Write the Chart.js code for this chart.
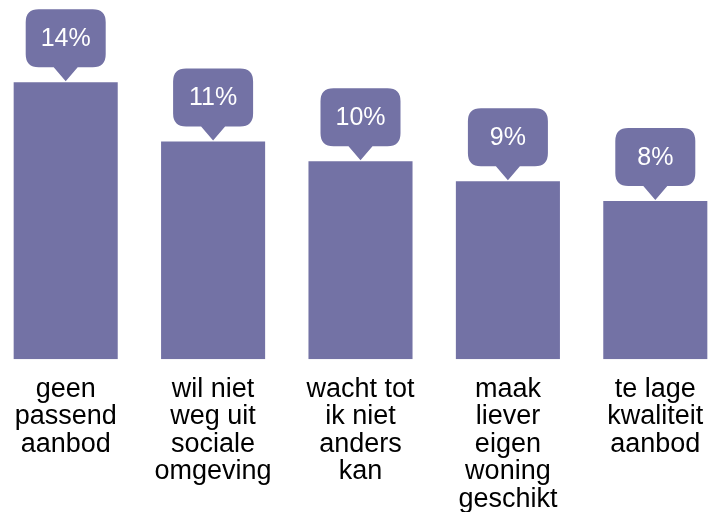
<!DOCTYPE html>
<html>
<head>
<meta charset="utf-8">
<script src="https://cdn.jsdelivr.net/npm/chart.js@4"></script>
<style>
  html, body { margin: 0; padding: 0; background: #fff; overflow: hidden; }
  #wrap { position: absolute; left: -8px; top: 0; width: 737px; height: 512px; }
</style>
</head>
<body>
<div id="wrap"><canvas id="chart"></canvas></div>
<script>
const categories = [
  ['geen', 'passend', 'aanbod'],
  ['wil niet', 'weg uit', 'sociale', 'omgeving'],
  ['wacht tot', 'ik niet', 'anders', 'kan'],
  ['maak', 'liever', 'eigen', 'woning', 'geschikt'],
  ['te lage', 'kwaliteit', 'aanbod']
];
const values = [14, 11, 10, 9, 8];
const valueLabels = ['14%', '11%', '10%', '9%', '8%'];

const BAR = '#7372a5';

// callout boxes above each bar
const calloutPlugin = {
  id: 'callouts',
  afterDatasetsDraw(chart) {
    const ctx = chart.ctx;
    const meta = chart.getDatasetMeta(0);
    meta.data.forEach((bar, i) => {
      const w = 80, h = 58, r = 13;
      const x = bar.x - w / 2;
      const bottom = bar.y - 15;
      const top = bottom - h;
      ctx.save();
      ctx.fillStyle = BAR;
      ctx.beginPath();
      ctx.moveTo(x + r, top);
      ctx.lineTo(x + w - r, top);
      ctx.quadraticCurveTo(x + w, top, x + w, top + r);
      ctx.lineTo(x + w, bottom - r);
      ctx.quadraticCurveTo(x + w, bottom, x + w - r, bottom);
      ctx.lineTo(bar.x + 12, bottom);
      ctx.lineTo(bar.x, bar.y - 1);
      ctx.lineTo(bar.x - 12, bottom);
      ctx.lineTo(x + r, bottom);
      ctx.quadraticCurveTo(x, bottom, x, bottom - r);
      ctx.lineTo(x, top + r);
      ctx.quadraticCurveTo(x, top, x + r, top);
      ctx.closePath();
      ctx.fill();
      ctx.fillStyle = '#ffffff';
      ctx.font = "25px 'Liberation Sans', Arial, sans-serif";
      ctx.textAlign = 'center';
      ctx.textBaseline = 'middle';
      ctx.fillText(valueLabels[i], bar.x, (top + bottom) / 2 + 1);
      ctx.restore();
    });
  }
};

new Chart(document.getElementById('chart'), {
  type: 'bar',
  data: {
    labels: categories,
    datasets: [{
      data: values,
      backgroundColor: BAR,
      borderWidth: 0,
      barPercentage: 0.706,
      categoryPercentage: 1
    }]
  },
  options: {
    responsive: true,
    maintainAspectRatio: false,
    animation: false,
    layout: { padding: { top: 0, left: 0, right: 0, bottom: -9 } },
    plugins: {
      legend: { display: false },
      tooltip: { enabled: false }
    },
    scales: {
      x: {
        grid: { display: false },
        border: { display: false },
        ticks: {
          color: '#000',
          padding: 8,
          maxRotation: 0,
          autoSkip: false,
          font: { family: "'Liberation Sans', Arial, sans-serif", size: 27, lineHeight: 1.02 }
        }
      },
      y: {
        display: false,
        min: 0,
        max: 18.15
      }
    }
  },
  plugins: [calloutPlugin]
});
</script>
</body>
</html>
